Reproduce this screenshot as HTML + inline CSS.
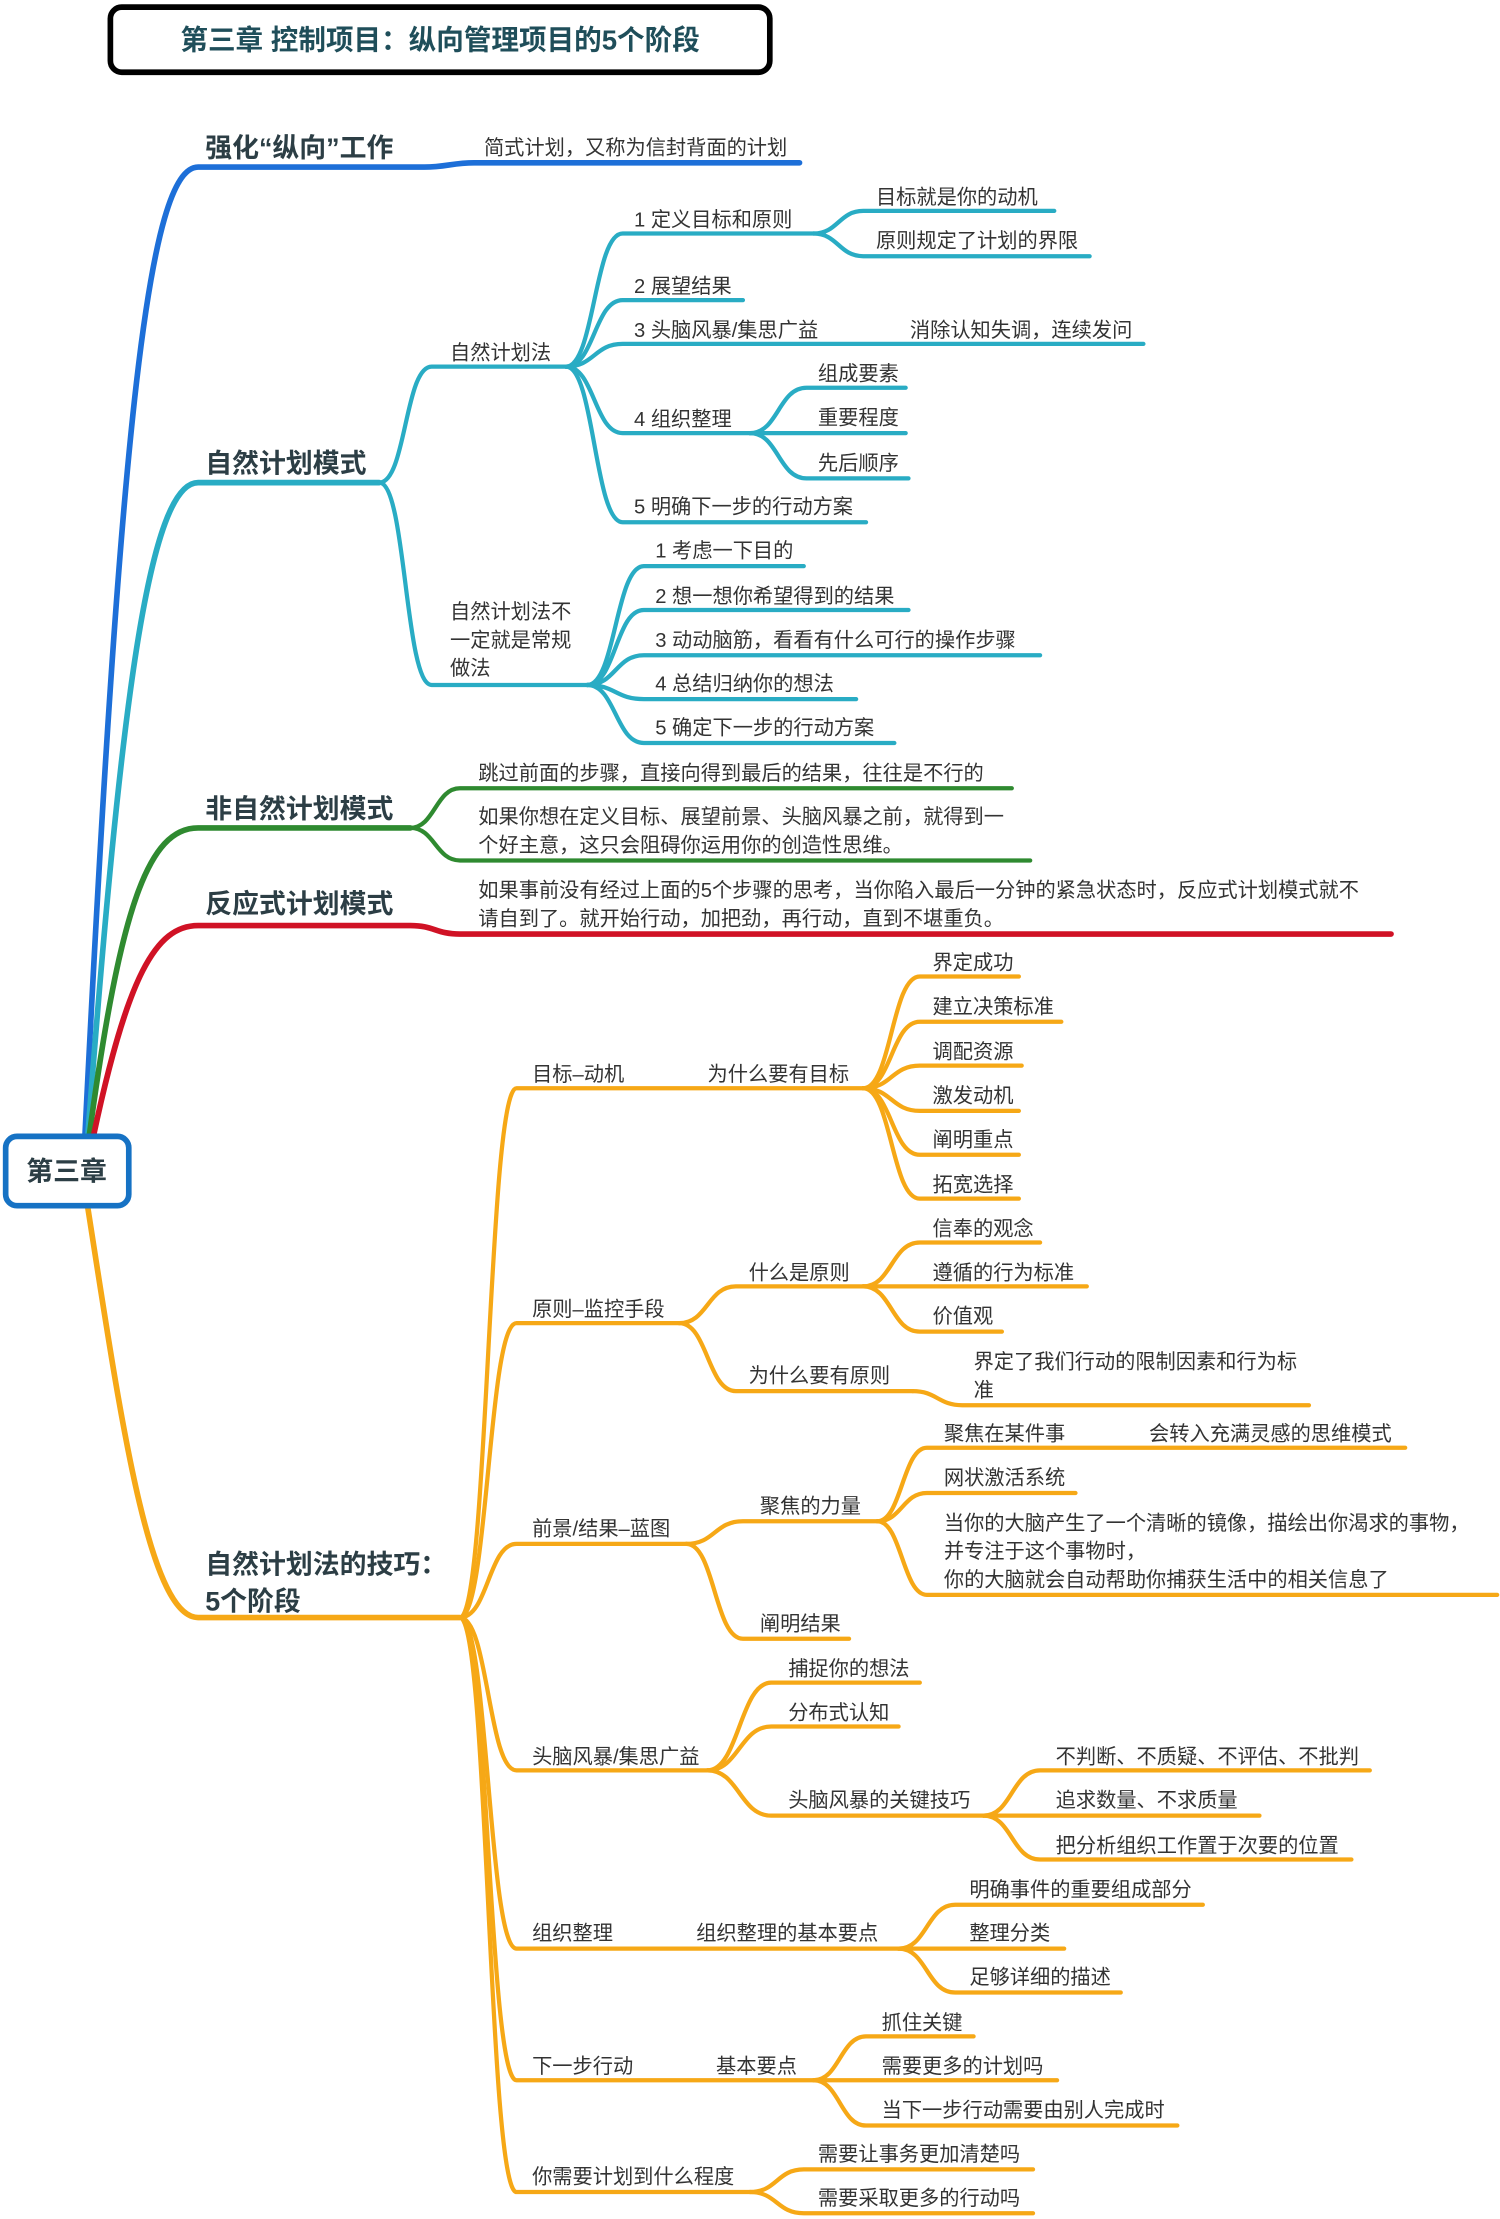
<!DOCTYPE html>
<html><head><meta charset="utf-8"><style>
html,body{margin:0;padding:0;background:#fff;}
svg{display:block;}
text{font-family:"Liberation Sans","Noto Sans CJK SC",sans-serif;font-size:14.3px;fill:#333;}
.b{font-weight:bold;font-size:19px;fill:#2c3e45;}
path{fill:none;stroke-linecap:round;stroke-linejoin:round;}
.bl{stroke:#1d6fd8;stroke-width:3.5}
.te{stroke:#29acc4;stroke-width:3}
.gr{stroke:#2f8a30;stroke-width:3}
.rd{stroke:#d01225;stroke-width:3}
.or{stroke:#f6a816;stroke-width:3}
.m{stroke-width:4}
</style></head><body>
<svg width="1500" height="2219" viewBox="0 0 1060 1568" xmlns="http://www.w3.org/2000/svg">
<rect x="0" y="0" width="1060" height="1568" fill="#fff"/>
<rect x="78" y="5" width="466" height="46" rx="8" fill="#fff" stroke="#000" stroke-width="4"/>
<text x="311" y="35" text-anchor="middle" class="b" style="font-size:19.5px;fill:#1f4e5a">第三章 控制项目：纵向管理项目的5个阶段</text>

<path class="bl m" d="M60,803 C85,300 105,118 140,118 L300,118 C315,118 320,115 335,115 L565,115"/>
<text class="b" x="145" y="111">强化“纵向”工作</text>
<text x="342" y="109">简式计划，又称为信封背面的计划</text>

<path class="te m" d="M62,803 C85,500 105,341 140,341 L268,341"/>
<path class="te" d="M268,341 C287,341 286,259 305,259 L400,259"/>
<path class="te" d="M268,341 C287,341 286,484 305,484 L415,484"/>
<path class="te" d="M400,259 C420,259 420,165 440,165 L575,165"/>
<path class="te" d="M575,165 C592,165 593,149 610,149 L745,149"/>
<path class="te" d="M575,165 C592,165 593,181 610,181 L770,181"/>
<path class="te" d="M400,259 C420,259 420,212 440,212 L525,212"/>
<path class="te" d="M400,259 C420,259 420,243 440,243 L808,243"/>
<path class="te" d="M400,259 C420,259 420,306 440,306 L530,306"/>
<path class="te" d="M530,306 C550,306 550,274 570,274 L640,274"/>
<path class="te" d="M530,306 L640,306"/>
<path class="te" d="M530,306 C550,306 550,338 570,338 L642,338"/>
<path class="te" d="M400,259 C420,259 420,369 440,369 L612,369"/>
<path class="te" d="M415,484 C435,484 435,400 455,400 L568,400"/>
<path class="te" d="M415,484 C435,484 435,431 455,431 L642,431"/>
<path class="te" d="M415,484 C435,484 435,463 455,463 L735,463"/>
<path class="te" d="M415,484 C435,484 435,494 455,494 L605,494"/>
<path class="te" d="M415,484 C435,484 435,525 455,525 L632,525"/>
<text class="b" x="145" y="334">自然计划模式</text>
<text x="318" y="254">自然计划法</text>
<text x="318" y="437">自然计划法不</text>
<text x="318" y="457">一定就是常规</text>
<text x="318" y="477">做法</text>
<text x="448" y="160">1 定义目标和原则</text>
<text x="619" y="144">目标就是你的动机</text>
<text x="619" y="175">原则规定了计划的界限</text>
<text x="448" y="207">2 展望结果</text>
<text x="448" y="238">3 头脑风暴/集思广益</text>
<text x="643" y="238">消除认知失调，连续发问</text>
<text x="448" y="301">4 组织整理</text>
<text x="578" y="269">组成要素</text>
<text x="578" y="300">重要程度</text>
<text x="578" y="332">先后顺序</text>
<text x="448" y="363">5 明确下一步的行动方案</text>
<text x="463" y="394">1 考虑一下目的</text>
<text x="463" y="426">2 想一想你希望得到的结果</text>
<text x="463" y="457">3 动动脑筋，看看有什么可行的操作步骤</text>
<text x="463" y="488">4 总结归纳你的想法</text>
<text x="463" y="519">5 确定下一步的行动方案</text>

<path class="gr m" d="M63,803 C85,640 105,585 140,585 L290,585"/>
<path class="gr" d="M290,585 C307,585 308,557 325,557 L715,557"/>
<path class="gr" d="M290,585 C307,585 308,608 325,608 L728,608"/>
<text class="b" x="145" y="578">非自然计划模式</text>
<text x="338" y="551">跳过前面的步骤，直接向得到最后的结果，往往是不行的</text>
<text x="338" y="582">如果你想在定义目标、展望前景、头脑风暴之前，就得到一</text>
<text x="338" y="602">个好主意，这只会阻碍你运用你的创造性思维。</text>

<path class="rd m" d="M66,803 C90,690 110,654 140,654 L290,654 C307,654 308,660 325,660 L983,660"/>
<text class="b" x="145" y="645">反应式计划模式</text>
<text x="338" y="634">如果事前没有经过上面的5个步骤的思考，当你陷入最后一分钟的紧急状态时，反应式计划模式就不</text>
<text x="338" y="654">请自到了。就开始行动，加把劲，再行动，直到不堪重负。</text>

<path class="or m" d="M62,853 C85,1000 105,1143 140,1143 L325,1143"/>
<path class="or" d="M325,1143 C345,1143 345,769 365,769 L610,769"/>
<path class="or" d="M610,769 C630,769 630,690 650,690 L720,690"/>
<path class="or" d="M610,769 C630,769 630,722 650,722 L750,722"/>
<path class="or" d="M610,769 C630,769 630,753 650,753 L722,753"/>
<path class="or" d="M610,769 C630,769 630,785 650,785 L720,785"/>
<path class="or" d="M610,769 C630,769 630,816 650,816 L720,816"/>
<path class="or" d="M610,769 C630,769 630,847 650,847 L720,847"/>
<path class="or" d="M325,1143 C345,1143 345,935 365,935 L480,935"/>
<path class="or" d="M480,935 C500,935 500,909 520,909 L610,909"/>
<path class="or" d="M480,935 C500,935 500,983 520,983 L645,983"/>
<path class="or" d="M610,909 C630,909 630,878 650,878 L735,878"/>
<path class="or" d="M610,909 L768,909"/>
<path class="or" d="M610,909 C630,909 630,941 650,941 L708,941"/>
<path class="or" d="M645,983 C662,983 663,993 680,993 L925,993"/>
<path class="or" d="M325,1143 C345,1143 345,1091 365,1091 L485,1091"/>
<path class="or" d="M485,1091 C505,1091 505,1075 525,1075 L620,1075"/>
<path class="or" d="M485,1091 C505,1091 505,1158 525,1158 L600,1158"/>
<path class="or" d="M620,1075 C637,1075 638,1023 655,1023 L993,1023"/>
<path class="or" d="M620,1075 C637,1075 638,1055 655,1055 L760,1055"/>
<path class="or" d="M620,1075 C637,1075 638,1127 655,1127 L1058,1127"/>
<path class="or" d="M325,1143 C345,1143 345,1251 365,1251 L500,1251"/>
<path class="or" d="M500,1251 C522,1251 523,1189 545,1189 L650,1189"/>
<path class="or" d="M500,1251 C522,1251 523,1220 545,1220 L635,1220"/>
<path class="or" d="M500,1251 C522,1251 523,1283 545,1283 L695,1283"/>
<path class="or" d="M695,1283 C715,1283 715,1251 735,1251 L968,1251"/>
<path class="or" d="M695,1283 L890,1283"/>
<path class="or" d="M695,1283 C715,1283 715,1314 735,1314 L955,1314"/>
<path class="or" d="M325,1143 C345,1143 345,1377 365,1377 L635,1377"/>
<path class="or" d="M635,1377 C655,1377 655,1346 675,1346 L850,1346"/>
<path class="or" d="M635,1377 L752,1377"/>
<path class="or" d="M635,1377 C655,1377 655,1408 675,1408 L792,1408"/>
<path class="or" d="M325,1143 C345,1143 345,1470 365,1470 L575,1470"/>
<path class="or" d="M575,1470 C593,1470 594,1439 612,1439 L688,1439"/>
<path class="or" d="M575,1470 L747,1470"/>
<path class="or" d="M575,1470 C593,1470 594,1502 612,1502 L832,1502"/>
<path class="or" d="M325,1143 C345,1143 345,1549 365,1549 L530,1549"/>
<path class="or" d="M530,1549 C549,1549 549,1533 568,1533 L730,1533"/>
<path class="or" d="M530,1549 C549,1549 549,1564 568,1564 L730,1564"/>
<text class="b" x="145" y="1112">自然计划法的技巧：</text>
<text class="b" x="145" y="1138">5个阶段</text>
<text x="376" y="764">目标–动机</text>
<text x="500" y="764">为什么要有目标</text>
<text x="659" y="685">界定成功</text>
<text x="659" y="716">建立决策标准</text>
<text x="659" y="748">调配资源</text>
<text x="659" y="779">激发动机</text>
<text x="659" y="810">阐明重点</text>
<text x="659" y="842">拓宽选择</text>
<text x="376" y="930">原则–监控手段</text>
<text x="529" y="904">什么是原则</text>
<text x="659" y="873">信奉的观念</text>
<text x="659" y="904">遵循的行为标准</text>
<text x="659" y="935">价值观</text>
<text x="529" y="977">为什么要有原则</text>
<text x="688" y="967">界定了我们行动的限制因素和行为标</text>
<text x="688" y="987">准</text>
<text x="376" y="1085">前景/结果–蓝图</text>
<text x="537" y="1069">聚焦的力量</text>
<text x="667" y="1018">聚焦在某件事</text>
<text x="812" y="1018">会转入充满灵感的思维模式</text>
<text x="667" y="1049">网状激活系统</text>
<text x="667" y="1081">当你的大脑产生了一个清晰的镜像，描绘出你渴求的事物，</text>
<text x="667" y="1101">并专注于这个事物时，</text>
<text x="667" y="1121">你的大脑就会自动帮助你捕获生活中的相关信息了</text>
<text x="537" y="1152">阐明结果</text>
<text x="376" y="1246">头脑风暴/集思广益</text>
<text x="557" y="1184">捕捉你的想法</text>
<text x="557" y="1215">分布式认知</text>
<text x="557" y="1277">头脑风暴的关键技巧</text>
<text x="746" y="1246">不判断、不质疑、不评估、不批判</text>
<text x="746" y="1277">追求数量、不求质量</text>
<text x="746" y="1309">把分析组织工作置于次要的位置</text>
<text x="376" y="1371">组织整理</text>
<text x="492" y="1371">组织整理的基本要点</text>
<text x="685" y="1340">明确事件的重要组成部分</text>
<text x="685" y="1371">整理分类</text>
<text x="685" y="1402">足够详细的描述</text>
<text x="376" y="1465">下一步行动</text>
<text x="506" y="1465">基本要点</text>
<text x="623" y="1434">抓住关键</text>
<text x="623" y="1465">需要更多的计划吗</text>
<text x="623" y="1496">当下一步行动需要由别人完成时</text>
<text x="376" y="1543">你需要计划到什么程度</text>
<text x="578" y="1527">需要让事务更加清楚吗</text>
<text x="578" y="1558">需要采取更多的行动吗</text>

<rect x="4" y="803" width="87" height="49" rx="8" fill="#fff" stroke="#1672c4" stroke-width="4"/>
<text class="b" x="47" y="834" text-anchor="middle" style="font-size:19px">第三章</text>
</svg>
</body></html>
